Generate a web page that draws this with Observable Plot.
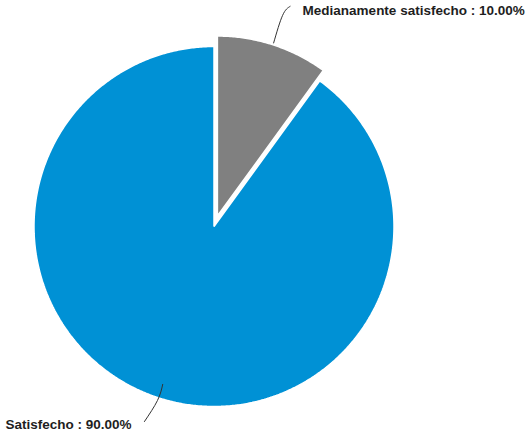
<!DOCTYPE html>
<html><head><meta charset="utf-8">
<script src="https://cdn.jsdelivr.net/npm/d3@7"></script>
<script src="https://cdn.jsdelivr.net/npm/@observablehq/plot@0.6"></script>
<style>body{margin:0;background:#fff}</style>
</head><body><div id="chart"></div>
<script>
const categories = ["Medianamente satisfecho", "Satisfecho"];
const values = [10, 90];

// layout
const W = 530, H = 431, cx = 213.5, cy = 226, R = 180;
const explode = {"Medianamente satisfecho": 11, "Satisfecho": 0};
// leader layout: start radius, elbow radius, end offset from elbow, label offset from end, anchor
const leader = {
  "Medianamente satisfecho": {r0: 182, r1: 211, ex: 7.5, ey: -9, lx: 12.5, ly: 4.7, anchor: "start"},
  "Satisfecho": {r0: 166, r1: 183, ex: -13, ey: 21, lx: -13, ly: 3, anchor: "end"}
};

const arcs = d3.pie().sort(null).value(d => d.value)(
  categories.map((c, i) => ({category: c, value: values[i]}))
);

const slicePts = [], leaderPts = [], labels = [];
for (const a of arcs) {
  const c = a.data.category;
  const mid = (a.startAngle + a.endAngle) / 2;
  const off = explode[c];
  const ox = cx + off * Math.sin(mid), oy = cy - off * Math.cos(mid);
  slicePts.push({category: c, x: ox, y: oy});
  const n = Math.ceil((a.endAngle - a.startAngle) / (Math.PI / 360));
  for (let k = 0; k <= n; k++) {
    const t = a.startAngle + (a.endAngle - a.startAngle) * k / n;
    slicePts.push({category: c, x: ox + R * Math.sin(t), y: oy - R * Math.cos(t)});
  }
  const L = leader[c];
  const s = {x: ox + L.r0 * Math.sin(mid), y: oy - L.r0 * Math.cos(mid)};
  const e = {x: ox + L.r1 * Math.sin(mid), y: oy - L.r1 * Math.cos(mid)};
  const f = {x: e.x + L.ex, y: e.y + L.ey};
  leaderPts.push({category: c, ...s}, {category: c, ...e}, {category: c, ...f});
  labels.push({category: c, x: f.x + L.lx, y: f.y + L.ly, anchor: L.anchor,
    text: `${c} : ${a.data.value.toFixed(2)}%`});
}

const chart = Plot.plot({
  width: W, height: H,
  margin: 0,
  x: {domain: [0, W], range: [0, W], axis: null},
  y: {domain: [0, H], range: [0, H], axis: null},
  color: {domain: categories, range: ["#808080", "#0091d5"]},
  style: {background: "#fff"},
  marks: [
    Plot.line(slicePts, {x: "x", y: "y", z: "category", fill: "category", stroke: "#fff",
      strokeWidth: 1.5, curve: "linear-closed", strokeLinejoin: "miter"}),
    Plot.line(leaderPts, {x: "x", y: "y", z: "category", stroke: "#333", strokeWidth: 1, curve: "natural"}),
    Plot.text(labels.filter(d => d.anchor === "start"), {x: "x", y: "y", text: "text", textAnchor: "start",
      fontSize: 13.5, fontWeight: "bold", fill: "#1e1e1e", fontFamily: "Liberation Sans, Arial, sans-serif"}),
    Plot.text(labels.filter(d => d.anchor === "end"), {x: "x", y: "y", text: "text", textAnchor: "end",
      fontSize: 13.5, fontWeight: "bold", fill: "#1e1e1e", fontFamily: "Liberation Sans, Arial, sans-serif"})
  ]
});
document.getElementById("chart").appendChild(chart);
</script>
</body></html>
